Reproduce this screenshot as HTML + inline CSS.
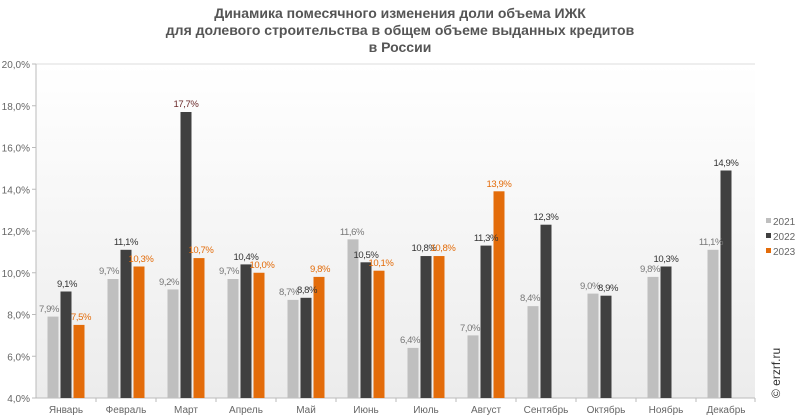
<!DOCTYPE html>
<html><head><meta charset="utf-8"><style>
html,body{margin:0;padding:0;background:#fff}
svg{display:block;font-family:"Liberation Sans",sans-serif}
.t{font-weight:bold;font-size:14px;fill:#555;text-anchor:middle}
.ax{font-size:10px;fill:#666}
.l1,.l2,.l3{font-size:9.5px;letter-spacing:-0.4px;text-anchor:middle}
.l1{fill:#777}
.l2{fill:#333}
.l3{fill:#e36c0a}
</style></head><body>
<svg width="800" height="419" viewBox="0 0 800 419">
<defs><linearGradient id="g" x1="0" y1="0" x2="0" y2="1"><stop offset="0" stop-color="#fff"/><stop offset="1" stop-color="#ececec"/></linearGradient></defs>
<text class="t" x="400" y="18">Динамика помесячного изменения доли объема ИЖК</text>
<text class="t" x="400" y="35">для долевого строительства в общем объеме выданных кредитов</text>
<text class="t" x="400" y="52">в России</text>
<rect x="36" y="64" width="719" height="334" fill="url(#g)"/>
<line x1="36" y1="64" x2="755" y2="64" stroke="#ddd"/>
<line x1="36" y1="64" x2="36" y2="398" stroke="#bbb"/>
<line x1="36" y1="398" x2="755" y2="398" stroke="#bbb"/>
<g stroke="#bbb">
<line x1="32" y1="64" x2="36" y2="64"/><line x1="32" y1="105.75" x2="36" y2="105.75"/><line x1="32" y1="147.5" x2="36" y2="147.5"/><line x1="32" y1="189.25" x2="36" y2="189.25"/><line x1="32" y1="231" x2="36" y2="231"/><line x1="32" y1="272.75" x2="36" y2="272.75"/><line x1="32" y1="314.5" x2="36" y2="314.5"/><line x1="32" y1="356.25" x2="36" y2="356.25"/><line x1="32" y1="398" x2="36" y2="398"/>
<line x1="96" y1="398" x2="96" y2="402"/><line x1="156" y1="398" x2="156" y2="402"/><line x1="216" y1="398" x2="216" y2="402"/><line x1="276" y1="398" x2="276" y2="402"/><line x1="336" y1="398" x2="336" y2="402"/><line x1="396" y1="398" x2="396" y2="402"/><line x1="456" y1="398" x2="456" y2="402"/><line x1="516" y1="398" x2="516" y2="402"/><line x1="576" y1="398" x2="576" y2="402"/><line x1="636" y1="398" x2="636" y2="402"/><line x1="696" y1="398" x2="696" y2="402"/><line x1="755" y1="398" x2="755" y2="402"/>
</g>
<g class="ax" text-anchor="end">
<text x="30" y="68">20,0%</text><text x="30" y="109.75">18,0%</text><text x="30" y="151.5">16,0%</text><text x="30" y="193.25">14,0%</text><text x="30" y="235">12,0%</text><text x="30" y="276.75">10,0%</text><text x="30" y="318.5">8,0%</text><text x="30" y="360.25">6,0%</text><text x="30" y="402">4,0%</text>
</g>
<g class="ax" text-anchor="middle">
<text x="66" y="413">Январь</text><text x="126" y="413">Февраль</text><text x="186" y="413">Март</text><text x="246" y="413">Апрель</text><text x="306" y="413">Май</text><text x="366" y="413">Июнь</text><text x="426" y="413">Июль</text><text x="486" y="413">Август</text><text x="546" y="413">Сентябрь</text><text x="606" y="413">Октябрь</text><text x="666" y="413">Ноябрь</text><text x="726" y="413">Декабрь</text>
</g>
<g fill="#bfbfbf">
<rect x="47.5" y="316.6" width="11" height="81.4"/><rect x="107.5" y="279" width="11" height="119"/><rect x="167.5" y="289.45" width="11" height="108.55"/><rect x="227.5" y="279" width="11" height="119"/><rect x="287.5" y="299.9" width="11" height="98.1"/><rect x="347.5" y="239.35" width="11" height="158.65"/><rect x="407.5" y="347.9" width="11" height="50.1"/><rect x="467.5" y="335.4" width="11" height="62.6"/><rect x="527.5" y="306.15" width="11" height="91.85"/><rect x="587.5" y="293.6" width="11" height="104.4"/><rect x="647.5" y="276.9" width="11" height="121.1"/><rect x="707.5" y="249.8" width="11" height="148.2"/>
</g>
<g fill="#404040">
<rect x="60.5" y="291.5" width="11" height="106.5"/><rect x="120.5" y="249.8" width="11" height="148.2"/><rect x="180.5" y="112" width="11" height="286"/><rect x="240.5" y="264.4" width="11" height="133.6"/><rect x="300.5" y="297.8" width="11" height="100.2"/><rect x="360.5" y="262.3" width="11" height="135.7"/><rect x="420.5" y="256.05" width="11" height="141.95"/><rect x="480.5" y="245.6" width="11" height="152.4"/><rect x="540.5" y="224.7" width="11" height="173.3"/><rect x="600.5" y="295.7" width="11" height="102.3"/><rect x="660.5" y="266.5" width="11" height="131.5"/><rect x="720.5" y="170.5" width="11" height="227.5"/>
</g>
<g fill="#e36c0a">
<rect x="73.5" y="324.9" width="11" height="73.1"/><rect x="133.5" y="266.5" width="11" height="131.5"/><rect x="193.5" y="258.1" width="11" height="139.9"/><rect x="253.5" y="272.75" width="11" height="125.25"/><rect x="313.5" y="276.9" width="11" height="121.1"/><rect x="373.5" y="270.7" width="11" height="127.3"/><rect x="433.5" y="256.05" width="11" height="141.95"/><rect x="493.5" y="191.3" width="11" height="206.7"/>
</g>
<g class="l1">
<text x="49" y="312">7,9%</text><text x="109" y="274">9,7%</text><text x="169" y="285">9,2%</text><text x="229" y="274">9,7%</text><text x="289" y="295">8,7%</text><text x="352" y="235">11,6%</text><text x="410" y="343">6,4%</text><text x="470" y="331">7,0%</text><text x="530" y="301">8,4%</text><text x="590" y="289">9,0%</text><text x="650" y="272">9,8%</text><text x="711" y="245">11,1%</text>
</g>
<g class="l2">
<text x="67" y="287">9,1%</text><text x="126" y="245">11,1%</text><text x="186" y="107" fill="#6b2a2a">17,7%</text><text x="246" y="260">10,4%</text><text x="307" y="293">8,8%</text><text x="366" y="258">10,5%</text><text x="424" y="251">10,8%</text><text x="486" y="241">11,3%</text><text x="546" y="220">12,3%</text><text x="608" y="291">8,9%</text><text x="666" y="262">10,3%</text><text x="726" y="166">14,9%</text>
</g>
<g class="l3">
<text x="81" y="320">7,5%</text><text x="141" y="262">10,3%</text><text x="201" y="253">10,7%</text><text x="262" y="268">10,0%</text><text x="320" y="272">9,8%</text><text x="381" y="266">10,1%</text><text x="443" y="251">10,8%</text><text x="499" y="187">13,9%</text>
</g>
<g class="ax">
<rect x="766" y="218" width="5" height="5" fill="#bfbfbf"/><text x="773" y="225">2021</text>
<rect x="766" y="233" width="5" height="5" fill="#404040"/><text x="773" y="240">2022</text>
<rect x="766" y="248" width="5" height="5" fill="#e36c0a"/><text x="773" y="255">2023</text>
</g>
<text x="0" y="0" transform="translate(780,398) rotate(-90)" font-size="12" fill="#333">© erzrf.ru</text>
</svg>
</body></html>
